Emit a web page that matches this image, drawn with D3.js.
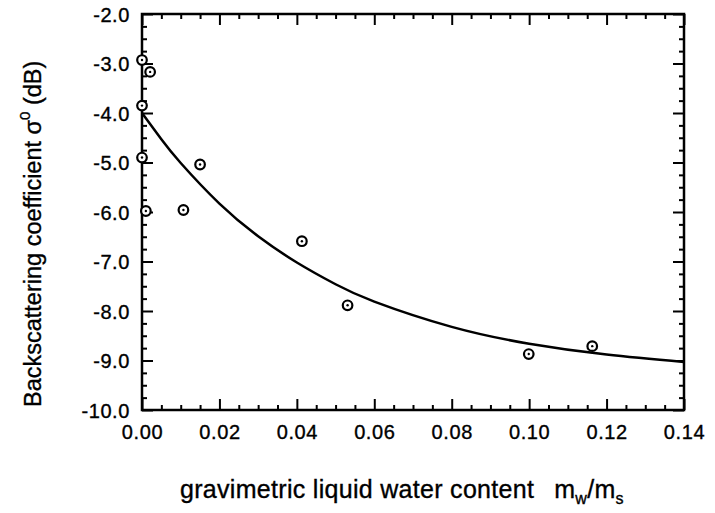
<!DOCTYPE html>
<html>
<head>
<meta charset="utf-8">
<script src="https://cdn.jsdelivr.net/npm/d3@7"></script>
<style>
  html, body { margin: 0; padding: 0; background: #fff; }
  svg text { font-family: "Liberation Sans", Arial, Helvetica, sans-serif; fill: #000; stroke: #000; stroke-width: 0.35px; }
</style>
</head>
<body>
<svg id="chart" width="715" height="513"></svg>
<script>
// Measured backscattering vs. gravimetric liquid water content
const waterContent = [0.0, 0.0021, 0.0, 0.0, 0.001, 0.0107, 0.015, 0.0413, 0.0531, 0.0999, 0.1163];
const sigma0 = [-2.93, -3.17, -3.85, -4.90, -5.98, -5.96, -5.04, -6.59, -7.885, -8.87, -8.71];

// Fitted trend curve, sampled along x
const fitX = [0.0, 0.005, 0.01, 0.02, 0.03, 0.04, 0.05, 0.06, 0.08, 0.10, 0.12, 0.14];
const fitY = [-4.00, -4.53, -5.01, -5.83, -6.49, -7.02, -7.46, -7.81, -8.32, -8.66, -8.88, -9.03];

// Axis ticks
const xTicks = [0.00, 0.02, 0.04, 0.06, 0.08, 0.10, 0.12, 0.14];
const yTicks = [-2, -3, -4, -5, -6, -7, -8, -9, -10];

const svg = d3.select("#chart");
const plot = { left: 142, right: 684, top: 14, bottom: 410 };

const x = d3.scaleLinear().domain([0, 0.14]).range([plot.left, plot.right]);
const y = d3.scaleLinear().domain([-10, -2]).range([plot.bottom, plot.top]);

const majorLen = 11, minorLen = 5;
const xMinor = d3.range(0, 0.14 + 1e-9, 0.005).filter(v => Math.abs(v / 0.02 - Math.round(v / 0.02)) > 1e-6);
const yMinor = d3.range(-10, -2 + 1e-9, 0.25).filter(v => Math.abs(v - Math.round(v)) > 1e-6);

const frame = svg.append("g");

// Ticks pointing inward on all four sides
function tickAxis(axisFn, scale, values, size, transform) {
  const g = frame.append("g").attr("transform", transform)
    .call(axisFn(scale).tickValues(values).tickSize(size).tickSizeOuter(0).tickFormat(""));
  g.select(".domain").remove();
  g.selectAll(".tick line").attr("stroke", "#000").attr("stroke-width", 2);
  return g;
}
tickAxis(d3.axisTop, x, xTicks, majorLen, `translate(0,${plot.bottom})`);
tickAxis(d3.axisTop, x, xMinor, minorLen, `translate(0,${plot.bottom})`);
tickAxis(d3.axisBottom, x, xTicks, majorLen, `translate(0,${plot.top})`);
tickAxis(d3.axisBottom, x, xMinor, minorLen, `translate(0,${plot.top})`);
tickAxis(d3.axisRight, y, yTicks, majorLen, `translate(${plot.left},0)`);
tickAxis(d3.axisRight, y, yMinor, minorLen, `translate(${plot.left},0)`);
tickAxis(d3.axisLeft, y, yTicks, majorLen, `translate(${plot.right},0)`);
tickAxis(d3.axisLeft, y, yMinor, minorLen, `translate(${plot.right},0)`);

// Frame box
frame.append("rect")
  .attr("x", plot.left).attr("y", plot.top)
  .attr("width", plot.right - plot.left).attr("height", plot.bottom - plot.top)
  .attr("fill", "none").attr("stroke", "#000").attr("stroke-width", 2.5);

// Tick labels (plain hyphen for negatives)
const hyphen = f => v => f(v).replace("\u2212", "-");
const xLab = d3.axisBottom(x).tickValues(xTicks).tickSize(0).tickFormat(d3.format(".2f"));
const gx = svg.append("g").attr("transform", `translate(0,${plot.bottom + 12})`).call(xLab);
gx.select(".domain").remove();
gx.selectAll("text").attr("font-size", 20).attr("letter-spacing", 0.6)
  .attr("font-family", null).attr("fill", null).attr("dy", "0.71em");

const yLab = d3.axisLeft(y).tickValues(yTicks).tickSize(0).tickFormat(hyphen(d3.format(".1f")));
const gy = svg.append("g").attr("transform", `translate(${plot.left - 9},0)`).call(yLab);
gy.select(".domain").remove();
gy.selectAll("text").attr("font-size", 20).attr("letter-spacing", 0.6)
  .attr("font-family", null).attr("fill", null).attr("dy", "0.36em");

// Fitted curve
const line = d3.line().x((d, i) => x(fitX[i])).y(d => y(d)).curve(d3.curveNatural);
svg.append("path").datum(fitY)
  .attr("d", line).attr("fill", "none").attr("stroke", "#000").attr("stroke-width", 2.5);

// Data markers: ring with centre dot
const pts = svg.append("g").selectAll("g").data(waterContent.map((v, i) => [v, sigma0[i]]))
  .join("g").attr("transform", d => `translate(${x(d[0])},${y(d[1])})`);
pts.append("circle").attr("r", 4.8).attr("fill", "#fff").attr("stroke", "#000").attr("stroke-width", 2.2);
pts.append("circle").attr("r", 1.2).attr("fill", "#000");

// Axis titles
const xt = svg.append("text").attr("x", 180).attr("y", 498).attr("font-size", 25).attr("letter-spacing", 0.3);
xt.append("tspan").text("gravimetric liquid water content");
xt.append("tspan").attr("dx", 20).text("m");
xt.append("tspan").attr("font-size", 16).attr("dy", 6).text("w");
xt.append("tspan").attr("dy", -6).text("/m");
xt.append("tspan").attr("font-size", 16).attr("dy", 6).text("s");

const yt = svg.append("text").attr("transform", "translate(41,407) rotate(-90)").attr("font-size", 23.5);
yt.append("tspan").text("Backscattering coefficient \u03c3");
yt.append("tspan").attr("font-size", 15).attr("dy", -11).text("0");
yt.append("tspan").attr("dy", 11).text(" (dB)");
</script>
</body>
</html>
